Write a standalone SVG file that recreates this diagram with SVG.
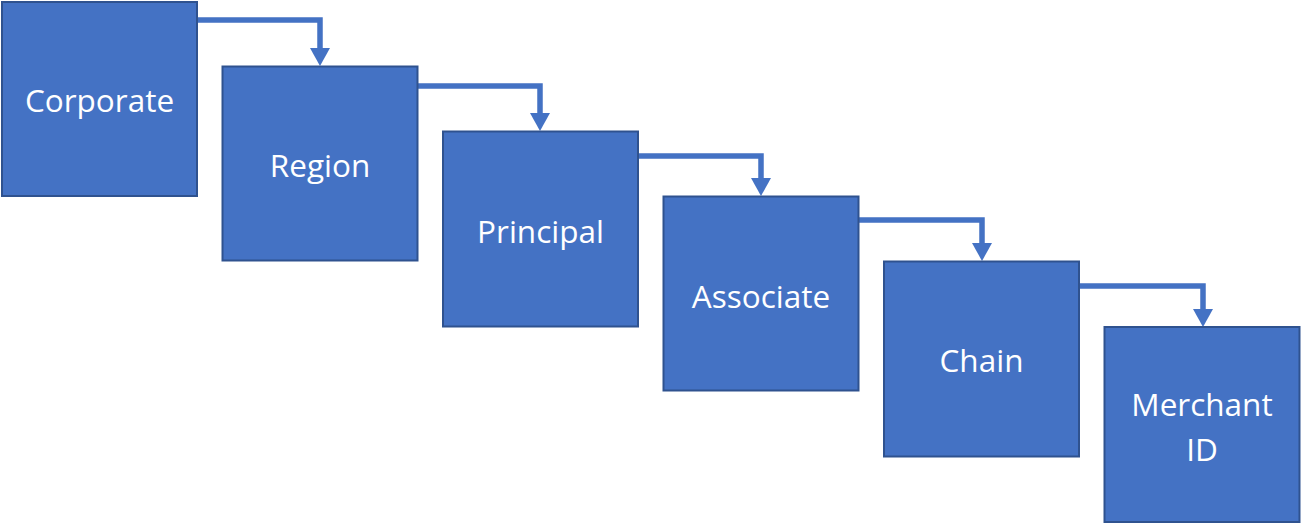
<svg xmlns="http://www.w3.org/2000/svg" width="1309" height="524" viewBox="0 0 1309 524">
<defs>
<style>
.box{fill:#4472C4;stroke:#2F528F;stroke-width:2}
.lbl{fill:#fff;font-family:"Open Sans","Liberation Sans",sans-serif;font-size:31.5px;text-anchor:middle;dominant-baseline:central}
.con{fill:none;stroke:#4472C4;stroke-width:5.5}
</style>
<marker id="ah" markerUnits="userSpaceOnUse" markerWidth="18" markerHeight="20" refX="0" refY="10" orient="auto" viewBox="0 0 18 20">
<path d="M0,0 L18,10 L0,20 Z" fill="#4472C4"/>
</marker>
</defs>
<g id="connectors">
<path class="con" d="M197,20 H320 V48" marker-end="url(#ah)"/>
<path class="con" d="M418,86 H540 V113" marker-end="url(#ah)"/>
<path class="con" d="M638,156 H761 V178" marker-end="url(#ah)"/>
<path class="con" d="M859,220 H982 V243" marker-end="url(#ah)"/>
<path class="con" d="M1079,286 H1203 V309" marker-end="url(#ah)"/>
</g>
<g id="corporate"><rect class="box" x="2" y="2" width="195" height="194"/><text class="lbl" x="99.5" y="99">Corporate</text></g>
<g id="region"><rect class="box" x="222.5" y="66.5" width="195" height="194"/><text class="lbl" x="320" y="164">Region</text></g>
<g id="principal"><rect class="box" x="443" y="131.5" width="195" height="195"/><text class="lbl" x="540.5" y="230">Principal</text></g>
<g id="associate"><rect class="box" x="663.5" y="196.5" width="195" height="194"/><text class="lbl" x="761" y="295">Associate</text></g>
<g id="chain"><rect class="box" x="884" y="261.5" width="195" height="195"/><text class="lbl" x="981.5" y="359">Chain</text></g>
<g id="merchant-id"><rect class="box" x="1104.5" y="327" width="195" height="195"/><text class="lbl" x="1202" y="403">Merchant</text><text class="lbl" x="1202" y="448">ID</text></g>
</svg>
